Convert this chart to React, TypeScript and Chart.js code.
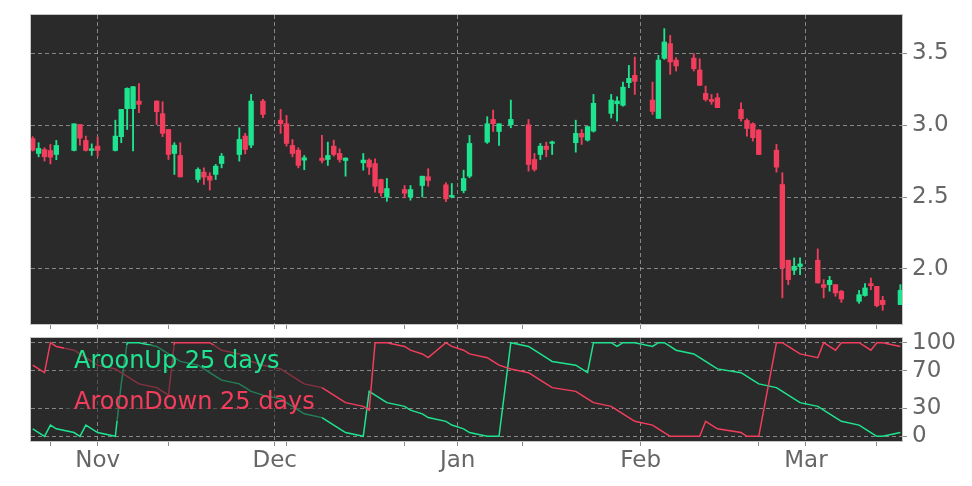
import React, { useEffect, useRef } from 'react';
import { Chart, registerables } from 'chart.js';

Chart.register(...registerables);

// ---------- data ----------
const dates = [
  '2024-10-21','2024-10-22','2024-10-23','2024-10-24','2024-10-25',
  '2024-10-28','2024-10-29','2024-10-30','2024-10-31','2024-11-01',
  '2024-11-04','2024-11-05','2024-11-06','2024-11-07','2024-11-08',
  '2024-11-11','2024-11-12','2024-11-13','2024-11-14','2024-11-15',
  '2024-11-18','2024-11-19','2024-11-20','2024-11-21','2024-11-22',
  '2024-11-25','2024-11-26','2024-11-27','2024-11-29',
  '2024-12-02','2024-12-03','2024-12-04','2024-12-05','2024-12-06',
  '2024-12-09','2024-12-10','2024-12-11','2024-12-12','2024-12-13',
  '2024-12-16','2024-12-17','2024-12-18','2024-12-19','2024-12-20',
  '2024-12-23','2024-12-24','2024-12-26','2024-12-27',
  '2024-12-30','2024-12-31','2025-01-02','2025-01-03',
  '2025-01-06','2025-01-07','2025-01-08','2025-01-10',
  '2025-01-13','2025-01-14','2025-01-15','2025-01-16','2025-01-17',
  '2025-01-21','2025-01-22','2025-01-23','2025-01-24',
  '2025-01-27','2025-01-28','2025-01-29','2025-01-30','2025-01-31',
  '2025-02-03','2025-02-04','2025-02-05','2025-02-06','2025-02-07',
  '2025-02-10','2025-02-11','2025-02-12','2025-02-13','2025-02-14',
  '2025-02-18','2025-02-19','2025-02-20','2025-02-21',
  '2025-02-24','2025-02-25','2025-02-26','2025-02-27','2025-02-28',
  '2025-03-03','2025-03-04','2025-03-05','2025-03-06','2025-03-07',
  '2025-03-10','2025-03-11','2025-03-12','2025-03-13','2025-03-14',
  '2025-03-17',
];

const openPrices = [
  2.906, 2.803, 2.831, 2.824, 2.796,
  2.824, 3.005, 2.894, 2.824, 2.854,
  2.824, 2.92, 3.115, 3.115, 3.168,
  3.168, 3.08, 2.97, 2.803, 2.789,
  2.622, 2.673, 2.645, 2.657, 2.733,
  2.796, 2.924, 2.861, 3.168,
  3.035, 3.01, 2.859, 2.826, 2.757,
  2.771, 2.761, 2.854, 2.803, 2.754,
  2.738, 2.757, 2.733, 2.622, 2.50,
  2.552, 2.50, 2.58, 2.641,
  2.585, 2.50, 2.545, 2.645,
  2.882, 3.04, 2.956, 3.003,
  3.003, 2.761, 2.796, 2.854, 2.873,
  2.878, 2.943, 2.896, 2.959,
  3.082, 3.149, 3.138, 3.296, 3.347,
  3.175, 3.047, 3.465, 3.568, 3.453,
  3.467, 3.384, 3.221, 3.179, 3.191,
  3.11, 3.033, 3.01, 2.966,
  2.826, 2.587, 2.06, 1.99, 2.016,
  2.06, 1.89, 1.89, 1.89, 1.844,
  1.774, 1.814, 1.897, 1.878, 1.781,
  1.751,
];

const highPrices = [
  2.92, 2.878, 2.843, 2.866, 2.894,
  3.01, 3.005, 2.924, 2.87, 2.917,
  3.035, 3.11, 3.26, 3.27, 3.29,
  3.17, 3.163, 2.97, 2.878, 2.878,
  2.703, 2.703, 2.669, 2.727, 2.803,
  2.982, 2.943, 3.214, 3.18,
  3.11, 3.068, 2.90, 2.843, 2.789,
  2.929, 2.882, 2.896, 2.836, 2.773,
  2.803, 2.766, 2.766, 2.625, 2.629,
  2.58, 2.58, 2.645, 2.697,
  2.60, 2.594, 2.687, 2.929,
  3.059, 3.105, 3.01, 3.175,
  3.04, 2.803, 2.873, 2.882, 2.889,
  3.035, 2.97, 2.99, 3.214,
  3.214, 3.198, 3.30, 3.416, 3.474,
  3.30, 3.486, 3.672, 3.625, 3.47,
  3.498, 3.463, 3.272, 3.214, 3.221,
  3.156, 3.045, 3.017, 2.97,
  2.866, 2.669, 2.06, 2.076, 2.076,
  2.139, 1.925, 1.948, 1.89, 1.851,
  1.85, 1.897, 1.936, 1.878, 1.809,
  1.89,
];

const lowPrices = [
  2.82, 2.78, 2.75, 2.73, 2.76,
  2.82, 2.86, 2.82, 2.79, 2.784,
  2.82, 2.878, 2.97, 2.82, 3.087,
  3.005, 2.92, 2.761, 2.657, 2.64,
  2.603, 2.587, 2.548, 2.622, 2.703,
  2.75, 2.80, 2.843, 3.052,
  2.943, 2.854, 2.78, 2.703, 2.69,
  2.738, 2.72, 2.784, 2.743, 2.645,
  2.687, 2.657, 2.533, 2.505, 2.47,
  2.494, 2.478, 2.50, 2.575,
  2.468, 2.494, 2.529, 2.634,
  2.873, 2.956, 2.859, 2.982,
  2.68, 2.68, 2.761, 2.78, 2.796,
  2.812, 2.866, 2.889, 2.952,
  3.05, 3.028, 3.133, 3.261, 3.214,
  3.075, 3.047, 3.458, 3.354, 3.377,
  3.377, 3.277, 3.168, 3.145, 3.122,
  3.028, 2.924, 2.889, 2.796,
  2.673, 1.798, 1.89, 1.96, 1.96,
  1.90, 1.798, 1.844, 1.809, 1.767,
  1.76, 1.809, 1.855, 1.735, 1.711,
  1.751,
];

const closePrices = [
  2.826, 2.838, 2.78, 2.777, 2.859,
  3.01, 2.91, 2.824, 2.836, 2.824,
  2.924, 3.11, 3.256, 3.268, 3.145,
  3.094, 2.943, 2.796, 2.861, 2.64,
  2.692, 2.638, 2.617, 2.715, 2.784,
  2.901, 2.831, 3.168, 3.075,
  3.01, 2.873, 2.803, 2.72, 2.773,
  2.754, 2.789, 2.796, 2.761, 2.771,
  2.757, 2.708, 2.575, 2.529, 2.559,
  2.526, 2.552, 2.645, 2.615,
  2.487, 2.511, 2.629, 2.873,
  3.01, 3.01, 3.01, 3.04,
  2.726, 2.692, 2.854, 2.831, 2.88,
  2.943, 2.917, 2.99, 3.152,
  3.175, 3.168, 3.265, 3.326, 3.305,
  3.096, 3.453, 3.579, 3.44, 3.412,
  3.393, 3.277, 3.179, 3.165, 3.122,
  3.045, 2.977, 2.913, 2.796,
  2.708, 2.007, 1.925, 2.018, 2.034,
  1.902, 1.871, 1.92, 1.832, 1.79,
  1.82, 1.867, 1.883, 1.744, 1.751,
  1.851,
];

const aroonUp = [
  8, 4, 0, 12, 8, 4, 0, 12, 8, 4,
  0, 56, 100, 100, 100, 96, 92, 88, 84, 80,
  76, 72, 68, 64, 60, 56, 52, 48, 44,
  40, 36, 32, 28, 24, 20, 16, 12, 8, 4,
  0, 48, 44, 40, 36, 32, 28, 24, 20,
  16, 12, 8, 4, 0, 0, 0, 100,
  96, 92, 88, 84, 80, 76, 72, 68, 100,
  100, 96, 100, 100, 100,
  96, 100, 100, 96, 92, 88, 84, 80, 76, 72,
  68, 64, 60, 56, 52, 48, 44, 40, 36,
  32, 28, 24, 20, 16, 12, 8, 4, 0, 0,
  4,
];

const aroonDown = [
  76, 72, 68, 100, 96, 92, 88, 84, 80, 76,
  72, 68, 64, 60, 56, 52, 48, 44, 100, 100,
  100, 100, 100, 96, 92, 88, 84, 80, 76,
  72, 68, 64, 60, 56, 52, 48, 44, 40, 36,
  32, 28, 100, 100, 100, 96, 92, 88, 84,
  100, 96, 92, 88, 84, 80, 76, 72,
  68, 64, 60, 56, 52, 48, 44, 40, 36,
  32, 28, 24, 20, 16,
  12, 8, 4, 0, 0, 0, 0, 16, 12, 8,
  4, 0, 0, 0, 100, 100, 96, 92, 88,
  84, 100, 96, 92, 100, 100, 96, 92, 100, 100,
  96,
];

const monthTickDates = ['2024-11-01', '2024-12-01', '2025-01-01', '2025-02-01', '2025-03-01'];
const monthTickLabels = ['Nov', 'Dec', 'Jan', 'Feb', 'Mar'];
const minorTickDates = ['2024-10-24', '2024-11-13', '2024-12-03', '2024-12-23', '2025-01-12', '2025-02-21', '2025-03-13'];
const priceTicks = [2.0, 2.5, 3.0, 3.5];
const aroonTicks = [0, 30, 70, 100];
const legendLabels = ['AroonUp 25 days', 'AroonDown 25 days'];

// ---------- style ----------
const UP = '#1ee38f';
const DOWN = '#f23d5c';
const PANEL_BG = '#2a2a2a';
const GRID = 'rgba(190,190,190,0.62)';
const TICK_MARK = '#8a8a8a';
const FRAME = '#c6c6c6';
const LABEL = '#666666';
const FONT = 'DejaVu Sans';

const dayNum = (s: string) => {
  const [y, m, d] = s.split('-').map(Number);
  return Date.UTC(y, m - 1, d) / 86400000;
};

const days = dates.map(dayNum);
const monthVals = monthTickDates.map(dayNum);
const minorVals = minorTickDates.map(dayNum);
const allXTicks = [...monthVals, ...minorVals].sort((a, b) => a - b);
const xMin = days[0] - 0.29;
const xMax = days[days.length - 1] + 0.27;

const isMonth = (v: number | undefined) => v !== undefined && monthVals.some((m) => Math.abs(m - v) < 0.01);

const framePlugin = {
  id: 'panelFrame',
  beforeDraw(chart: any) {
    const { ctx, chartArea: a } = chart;
    ctx.save();
    ctx.fillStyle = PANEL_BG;
    ctx.fillRect(a.left, a.top, a.right - a.left, a.bottom - a.top);
    ctx.restore();
  },
  afterDraw(chart: any) {
    const { ctx, chartArea: a } = chart;
    ctx.save();
    ctx.strokeStyle = FRAME;
    ctx.lineWidth = 1;
    ctx.strokeRect(Math.round(a.left) - 0.5, Math.round(a.top) - 0.5, Math.round(a.right - a.left) + 1, Math.round(a.bottom - a.top) + 1);
    ctx.restore();
  },
};

const legendPlugin = {
  id: 'aroonLegend',
  afterDatasetsDraw(chart: any) {
    const { ctx, chartArea: a } = chart;
    ctx.save();
    ctx.fillStyle = 'rgba(42,42,42,0.55)';
    ctx.fillRect(a.left + 33, a.top + 7, 258, 76);
    ctx.font = `24px "${FONT}"`;
    ctx.textBaseline = 'alphabetic';
    ctx.textAlign = 'left';
    ctx.fillStyle = UP;
    ctx.fillText(legendLabels[0], a.left + 43, a.top + 30);
    ctx.fillStyle = DOWN;
    ctx.fillText(legendLabels[1], a.left + 43, a.top + 71);
    ctx.restore();
  },
};

const noPad = (s: any) => {
  s.paddingTop = 0;
  s.paddingBottom = 0;
  s.paddingLeft = 0;
  s.paddingRight = 0;
};

const xScale = (showLabels: boolean, height: number) => ({
  type: 'linear' as const,
  min: xMin,
  max: xMax,
  offset: false,
  bounds: 'data' as const,
  afterFit: (s: any) => { s.height = height; noPad(s); },
  afterBuildTicks: (s: any) => { s.ticks = allXTicks.map((v) => ({ value: v })); },
  ticks: {
    display: showLabels,
    autoSkip: false,
    maxRotation: 0,
    padding: 1,
    color: LABEL,
    font: { family: FONT, size: 23 },
    callback: (v: any) => {
      const i = monthVals.findIndex((m) => Math.abs(m - Number(v)) < 0.01);
      return i >= 0 ? monthTickLabels[i] : '';
    },
  },
  grid: {
    offset: false,
    color: (c: any) => (isMonth(c.tick?.value) ? GRID : 'rgba(0,0,0,0)'),
    tickColor: TICK_MARK,
    tickLength: 5,
    lineWidth: 1,
  },
  border: { display: false, dash: [4, 3] },
});

const yScale = (min: number, max: number, ticks: number[], fmt: (v: number) => string) => ({
  type: 'linear' as const,
  position: 'right' as const,
  min,
  max,
  bounds: 'data' as const,
  afterFit: (s: any) => { s.width = 70; noPad(s); },
  afterBuildTicks: (s: any) => { s.ticks = ticks.map((v) => ({ value: v })); },
  ticks: {
    padding: 5,
    color: LABEL,
    font: { family: FONT, size: 23 },
    callback: (v: any) => fmt(Number(v)),
  },
  grid: { offset: false, color: GRID, tickColor: TICK_MARK, tickLength: 5, lineWidth: 1 },
  border: { display: false, dash: [4, 3] },
});

export default function App() {
  const topRef = useRef<HTMLCanvasElement>(null);
  const botRef = useRef<HTMLCanvasElement>(null);

  useEffect(() => {
    const colors = dates.map((_, i) => (closePrices[i] >= openPrices[i] ? UP : DOWN));

    const top = new Chart(topRef.current as HTMLCanvasElement, {
      type: 'bar',
      data: {
        datasets: [
          {
            label: 'wick',
            data: dates.map((_, i) => ({ x: days[i], y: [lowPrices[i], highPrices[i]] })) as any,
            backgroundColor: colors,
            barThickness: 1.2,
            grouped: false,
            borderWidth: 0,
            order: 2,
          },
          {
            label: 'body',
            data: dates.map((_, i) => ({ x: days[i], y: [openPrices[i], closePrices[i]] })) as any,
            backgroundColor: colors,
            barThickness: 4.7,
            minBarLength: 1.5,
            grouped: false,
            borderWidth: 0,
            order: 1,
          },
        ],
      },
      options: {
        responsive: false,
        animation: false,
        devicePixelRatio: 1,
        events: [],
        layout: { padding: { left: 31, top: 15, right: 0, bottom: 0 } },
        plugins: { legend: { display: false }, tooltip: { enabled: false } },
        scales: {
          x: xScale(false, 6) as any,
          y: yScale(1.616, 3.767, priceTicks, (v) => v.toFixed(1)) as any,
        },
      },
      plugins: [framePlugin],
    });

    const bottom = new Chart(botRef.current as HTMLCanvasElement, {
      type: 'line',
      data: {
        datasets: [
          {
            label: legendLabels[1],
            data: dates.map((_, i) => ({ x: days[i], y: aroonDown[i] })),
            borderColor: DOWN,
            borderWidth: 1.5,
            pointRadius: 0,
            tension: 0,
            order: 0,
          },
          {
            label: legendLabels[0],
            data: dates.map((_, i) => ({ x: days[i], y: aroonUp[i] })),
            borderColor: UP,
            borderWidth: 1.5,
            pointRadius: 0,
            tension: 0,
            order: 1,
          },
        ],
      },
      options: {
        responsive: false,
        animation: false,
        devicePixelRatio: 1,
        events: [],
        layout: { padding: { left: 31, top: 8, right: 0, bottom: 0 } },
        plugins: { legend: { display: false }, tooltip: { enabled: false } },
        scales: {
          x: xScale(true, 45) as any,
          y: yScale(-5, 105, aroonTicks, (v) => String(Math.round(v))) as any,
        },
      },
      plugins: [framePlugin, legendPlugin],
    });

    return () => {
      top.destroy();
      bottom.destroy();
    };
  }, []);

  return (
    <div style={{ position: 'absolute', left: 0, top: 0, width: 972, height: 486, background: '#ffffff', overflow: 'hidden' }}>
      <canvas ref={topRef} width={972} height={330} style={{ position: 'absolute', left: 0, top: 0, width: 972, height: 330 }} />
      <canvas ref={botRef} width={972} height={156} style={{ position: 'absolute', left: 0, top: 330, width: 972, height: 156 }} />
    </div>
  );
}
